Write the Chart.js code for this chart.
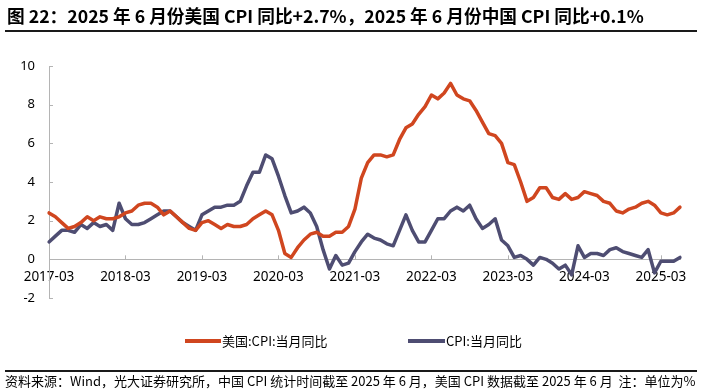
<!DOCTYPE html>
<html lang="zh-CN">
<head>
<meta charset="utf-8">
<title>美国与中国 CPI 当月同比</title>
<script src="https://cdn.jsdelivr.net/npm/chart.js@4.4.1/dist/chart.umd.min.js"></script>
<style>
    html, body { margin: 0; padding: 0; background: #fff; }
    #wrap {
        position: relative;
        width: 703px;
        height: 392px;
        overflow: hidden;
        font-family: "Noto Sans CJK SC", "Noto Sans", sans-serif;
        color: #000;
    }
    #chart-box { position: absolute; left: 0; top: 0; width: 703px; height: 392px; }
    #title {
        position: absolute; left: 7px; top: 4px;
        font-size: 17.7px; font-weight: bold; line-height: 22px;
        white-space: nowrap;
    }
    .rule { position: absolute; left: 5px; width: 692px; background: #1a1a1a; }
    #title-rule { top: 30px; height: 2px; }
    #foot-rule { top: 370px; height: 1.5px; }
    #source {
        position: absolute; left: 5px; top: 373px;
        font-size: 13px; line-height: 16px; white-space: nowrap;
    }
    .legend-line { position: absolute; height: 4px; top: 339px; }
    .legend-text {
        position: absolute; top: 332px; font-size: 13px; line-height: 18px;
        white-space: nowrap;
    }
</style>
</head>
<body>
<div id="wrap">
    <div id="chart-box"><canvas id="chart" width="703" height="392"></canvas></div>
    <div id="title">图 22：2025 年 6 月份美国 CPI 同比+2.7%，2025 年 6 月份中国 CPI 同比+0.1%</div>
    <div class="rule" id="title-rule"></div>
    <div id="legend"></div>
    <div class="rule" id="foot-rule"></div>
    <div id="source">资料来源：Wind，光大证券研究所，中国 CPI 统计时间截至 2025 年 6 月，美国 CPI 数据截至 2025 年 6 月&nbsp; 注：单位为%</div>
</div>
<script>
// Months 2017-03 .. 2025-06
const startYear = 2017, startMonth = 3, monthCount = 100;
const months = [];
for (let i = 0; i < monthCount; i++) {
    const m = startMonth - 1 + i;
    const y = startYear + Math.floor(m / 12);
    months.push(y + '-' + String(m % 12 + 1).padStart(2, '0'));
}

const seriesNames = ['美国:CPI:当月同比', 'CPI:当月同比'];
const seriesColors = ['#D0461F', '#4E4D72'];

// 美国 CPI 当月同比 (%)
const usCpi = [
    2.4, 2.2, 1.9, 1.6, 1.7, 1.9, 2.2, 2.0, 2.2, 2.1,             // 2017-03..12
    2.1, 2.2, 2.4, 2.5, 2.8, 2.9, 2.9, 2.7, 2.3, 2.5, 2.2, 1.9,   // 2018
    1.6, 1.5, 1.9, 2.0, 1.8, 1.6, 1.8, 1.7, 1.7, 1.8, 2.1, 2.3,   // 2019
    2.5, 2.3, 1.5, 0.3, 0.1, 0.6, 1.0, 1.3, 1.4, 1.2, 1.2, 1.4,   // 2020
    1.4, 1.7, 2.6, 4.2, 5.0, 5.4, 5.4, 5.3, 5.4, 6.2, 6.8, 7.0,   // 2021
    7.5, 7.9, 8.5, 8.3, 8.6, 9.1, 8.5, 8.3, 8.2, 7.7, 7.1, 6.5,   // 2022
    6.4, 6.0, 5.0, 4.9, 4.0, 3.0, 3.2, 3.7, 3.7, 3.2, 3.1, 3.4,   // 2023
    3.1, 3.2, 3.5, 3.4, 3.3, 3.0, 2.9, 2.5, 2.4, 2.6, 2.7, 2.9,   // 2024
    3.0, 2.8, 2.4, 2.3, 2.4, 2.7                                  // 2025-01..06
];

// 中国 CPI 当月同比 (%)
const cnCpi = [
    0.9, 1.2, 1.5, 1.5, 1.4, 1.8, 1.6, 1.9, 1.7, 1.8,              // 2017-03..12
    1.5, 2.9, 2.1, 1.8, 1.8, 1.9, 2.1, 2.3, 2.5, 2.5, 2.2, 1.9,    // 2018
    1.7, 1.5, 2.3, 2.5, 2.7, 2.7, 2.8, 2.8, 3.0, 3.8, 4.5, 4.5,    // 2019
    5.4, 5.2, 4.3, 3.3, 2.4, 2.5, 2.7, 2.4, 1.7, 0.5, -0.5, 0.2,   // 2020
    -0.3, -0.2, 0.4, 0.9, 1.3, 1.1, 1.0, 0.8, 0.7, 1.5, 2.3, 1.5,  // 2021
    0.9, 0.9, 1.5, 2.1, 2.1, 2.5, 2.7, 2.5, 2.8, 2.1, 1.6, 1.8,    // 2022
    2.1, 1.0, 0.7, 0.1, 0.2, 0.0, -0.3, 0.1, 0.0, -0.2, -0.5, -0.3,// 2023
    -0.8, 0.7, 0.1, 0.3, 0.3, 0.2, 0.5, 0.6, 0.4, 0.3, 0.2, 0.1,   // 2024
    0.5, -0.7, -0.1, -0.1, -0.1, 0.1                               // 2025-01..06
];

const yMin = -2, yMax = 10, yStep = 2;
const axisColor = '#B4B4B4';
const tickFont = { family: '"Noto Sans", sans-serif', size: 13 };

// small tick marks that point into the plot area
const innerTicks = {
    id: 'innerTicks',
    beforeDatasetsDraw(chart) {
        const ctx = chart.ctx;
        const x = chart.scales.x, y = chart.scales.y;
        const x0 = y.right, y0 = y.getPixelForValue(0);
        ctx.save();
        ctx.strokeStyle = axisColor;
        ctx.lineWidth = 1;
        ctx.beginPath();
        y.ticks.forEach((t, i) => {
            const py = Math.round(y.getPixelForTick(i)) + 0.5;
            ctx.moveTo(x0, py);
            ctx.lineTo(x0 + 4, py);
        });
        x.ticks.forEach((t, i) => {
            const px = Math.round(x.getPixelForTick(i)) + 0.5;
            ctx.moveTo(px, y0);
            ctx.lineTo(px, y0 - 4);
        });
        ctx.stroke();
        ctx.restore();
    }
};

const chart = new Chart(document.getElementById('chart'), {
    type: 'line',
    data: {
        labels: months,
        datasets: [
            { label: seriesNames[0], data: usCpi, borderColor: seriesColors[0], backgroundColor: seriesColors[0] },
            { label: seriesNames[1], data: cnCpi, borderColor: seriesColors[1], backgroundColor: seriesColors[1] }
        ]
    },
    options: {
        responsive: false,
        animation: false,
        devicePixelRatio: 1,
        layout: { padding: { top: 66, right: 23, bottom: 94, left: 0 } },
        elements: {
            line: { borderWidth: 3.5, tension: 0, borderJoinStyle: 'round', borderCapStyle: 'round' },
            point: { radius: 0 }
        },
        plugins: { legend: { display: false }, tooltip: { enabled: false } },
        scales: {
            x: {
                type: 'category',
                position: { y: 0 },
                grid: { display: false, drawTicks: false },
                border: { display: true, color: axisColor, width: 1 },
                ticks: { autoSkip: false, maxRotation: 0, padding: 10, color: '#000',
                         font: { family: tickFont.family, size: 13.5 } },
                afterBuildTicks: function(scale) {
                    scale.ticks = scale.ticks.filter(t => t.value % 12 === 0);
                }
            },
            y: {
                min: yMin,
                max: yMax,
                grid: { display: false, drawTicks: false },
                border: { display: true, color: axisColor, width: 1 },
                ticks: { stepSize: yStep, padding: 14, color: '#000', font: tickFont },
                afterFit: function(scale) { scale.width = 49; }
            }
        }
    },
    plugins: [innerTicks]
});

// HTML legend
const legendBox = document.getElementById('legend');
const legendPos = [{ line: 185, w: 36, text: 222 }, { line: 408, w: 37, text: 446 }];
seriesNames.forEach((name, i) => {
    const line = document.createElement('div');
    line.className = 'legend-line';
    line.style.left = legendPos[i].line + 'px';
    line.style.width = legendPos[i].w + 'px';
    line.style.background = seriesColors[i];
    const txt = document.createElement('div');
    txt.className = 'legend-text';
    txt.style.left = legendPos[i].text + 'px';
    txt.textContent = name;
    legendBox.appendChild(line);
    legendBox.appendChild(txt);
});
</script>
</body>
</html>
